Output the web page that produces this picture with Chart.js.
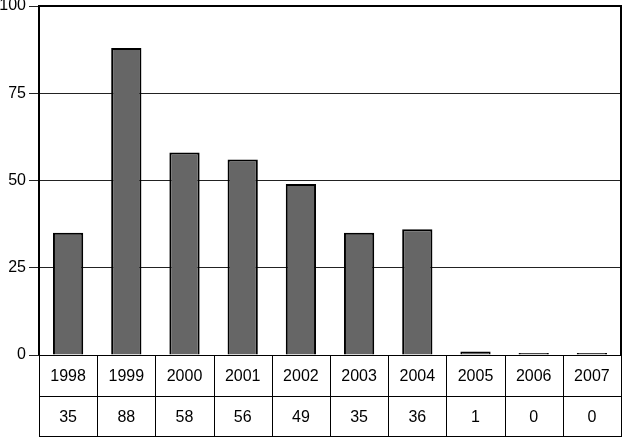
<!DOCTYPE html>
<html>
<head>
<meta charset="utf-8">
<script src="https://cdn.jsdelivr.net/npm/chart.js@4"></script>
<style>
  html, body { margin: 0; padding: 0; background: #fff; }
  canvas { display: block; }
</style>
</head>
<body>
<canvas id="grafico" width="623" height="438"></canvas>
<script>
const years = ["1998", "1999", "2000", "2001", "2002", "2003", "2004", "2005", "2006", "2007"];
const counts = [35, 88, 58, 56, 49, 35, 36, 1, 0, 0];
const yTicks = [0, 25, 50, 75, 100];

const FONT = "'Liberation Sans', Arial, sans-serif";

// frame + data table under the plot
const tablePlugin = {
  id: "tabela",
  afterDraw(chart) {
    const ctx = chart.ctx;
    const a = chart.chartArea;
    const x = chart.scales.x;
    const colW = (a.right - a.left) / years.length;
    const rowH = 41;
    const bottom = a.bottom + rowH * 2;

    ctx.save();
    // plot frame
    ctx.strokeStyle = "#000";
    ctx.lineWidth = 2;
    ctx.beginPath();
    ctx.moveTo(a.left, a.bottom);
    ctx.lineTo(a.left, a.top);
    ctx.lineTo(a.right, a.top);
    ctx.lineTo(a.right, a.bottom);
    ctx.stroke();

    // table lines
    ctx.lineWidth = 1;
    ctx.strokeStyle = "#000";
    ctx.beginPath();
    ctx.moveTo(a.left, a.bottom + 0.5);
    ctx.lineTo(a.right, a.bottom + 0.5);
    ctx.moveTo(a.left, a.bottom + rowH + 0.5);
    ctx.lineTo(a.right, a.bottom + rowH + 0.5);
    ctx.moveTo(a.left, bottom - 0.5);
    ctx.lineTo(a.right, bottom - 0.5);
    for (let i = 0; i <= years.length; i++) {
      const xx = Math.round(a.left + i * colW) + 0.5;
      ctx.moveTo(xx, a.bottom);
      ctx.lineTo(xx, bottom);
    }
    ctx.stroke();

    // texts
    ctx.fillStyle = "#000";
    ctx.font = "16px " + FONT;
    ctx.textAlign = "center";
    ctx.textBaseline = "middle";
    years.forEach((y, i) => {
      const cx = x.getPixelForValue(i);
      ctx.fillText(y, cx, a.bottom + rowH / 2 + 1);
      ctx.fillText(String(counts[i]), cx, a.bottom + rowH * 1.5 + 1);
    });
    ctx.restore();
  }
};

new Chart(document.getElementById("grafico"), {
  type: "bar",
  data: {
    labels: years,
    datasets: [{
      data: counts,
      backgroundColor: "#666666",
      borderColor: "#000",
      borderWidth: 2,
      borderSkipped: "bottom",
      barPercentage: 0.52,
      categoryPercentage: 1,
      minBarLength: 2
    }]
  },
  options: {
    responsive: false,
    animation: false,
    layout: { padding: { top: 6, right: 2, bottom: 83, left: 0 } },
    plugins: {
      legend: { display: false },
      tooltip: { enabled: false }
    },
    scales: {
      x: {
        display: false,
        offset: true
      },
      y: {
        min: 0,
        max: 100,
        afterFit: s => { s.width = 39; s.paddingTop = 0; s.paddingBottom = 0; },
        afterBuildTicks: s => { s.ticks = yTicks.map(v => ({ value: v })); },
        border: { display: false },
        grid: {
          color: "#222",
          lineWidth: 1,
          tickLength: 10,
          drawTicks: true
        },
        ticks: {
          padding: 3,
          color: "#000",
          font: { family: FONT, size: 16 }
        }
      }
    }
  },
  plugins: [tablePlugin]
});
</script>
</body>
</html>
